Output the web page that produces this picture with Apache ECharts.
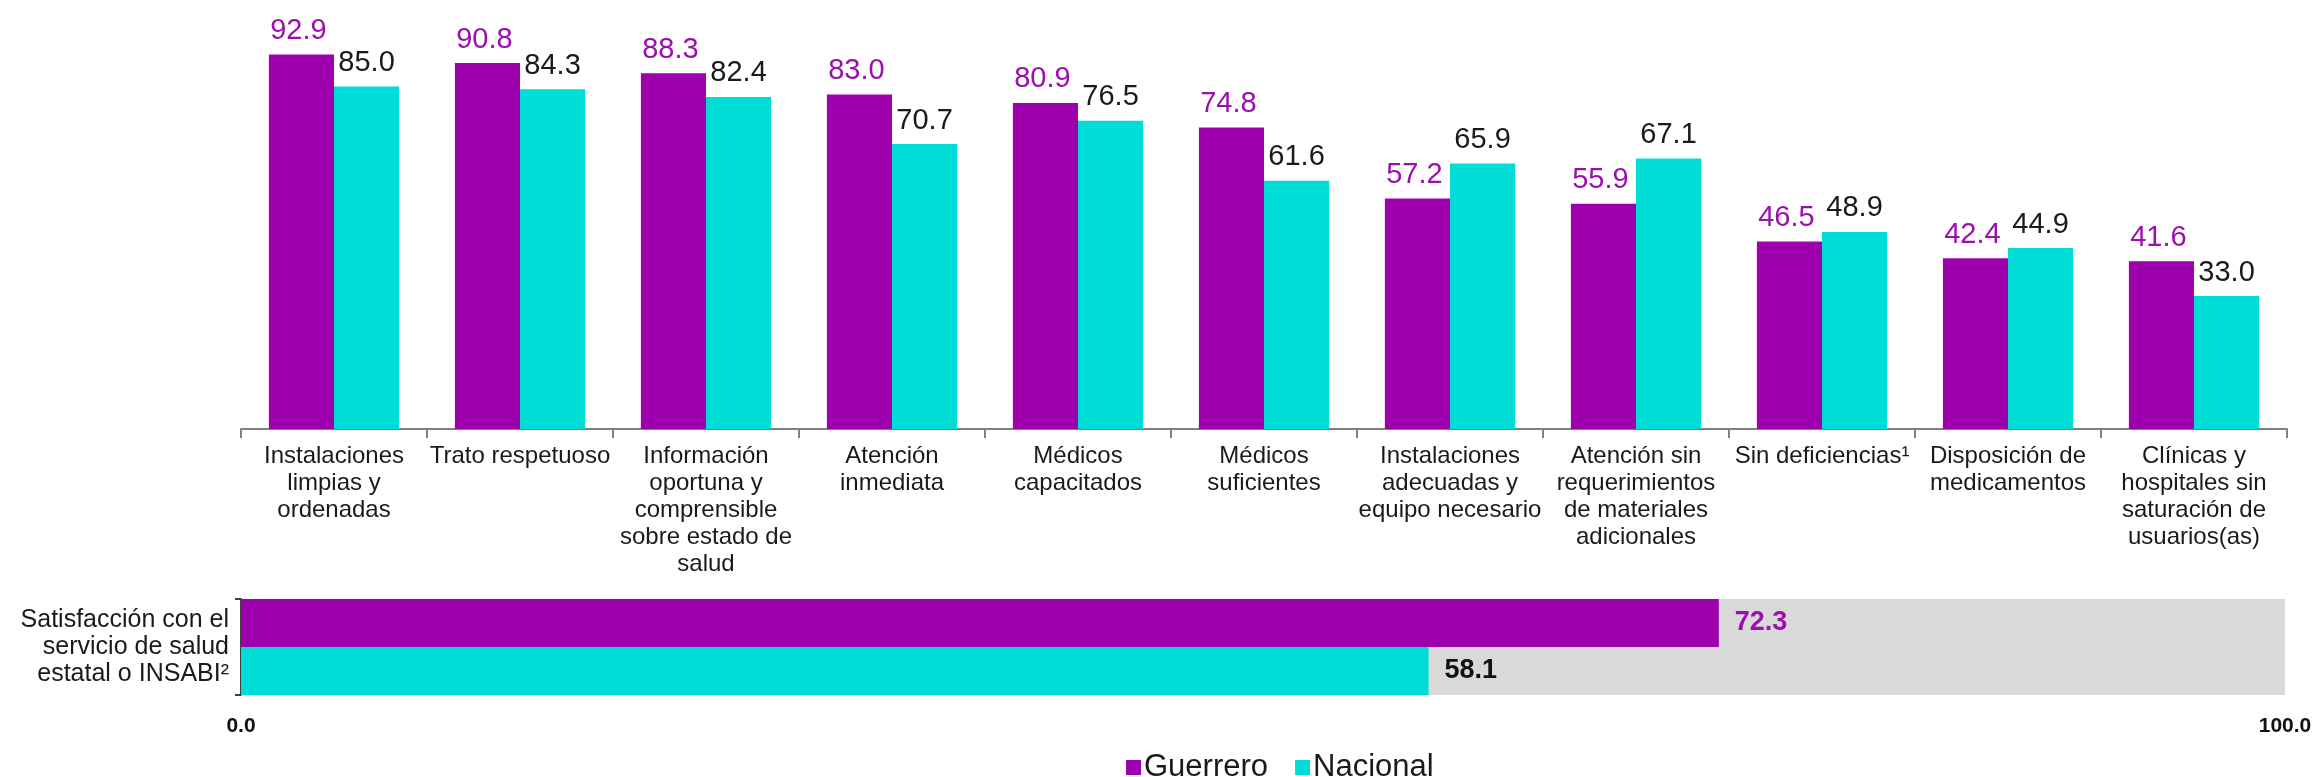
<!DOCTYPE html>
<html>
<head>
<meta charset="utf-8">
<script src="https://cdn.jsdelivr.net/npm/echarts@6/dist/echarts.min.js"></script>
<style>
  html, body { margin: 0; padding: 0; background: #fff; }
  #chart { width: 2318px; height: 777px; }
</style>
</head>
<body>
<div id="chart"></div>
<script>
// 类别（上方柱状图）
var categories = [
  "Instalaciones\nlimpias y\nordenadas",
  "Trato respetuoso",
  "Información\noportuna y\ncomprensible\nsobre estado de\nsalud",
  "Atención\ninmediata",
  "Médicos\ncapacitados",
  "Médicos\nsuficientes",
  "Instalaciones\nadecuadas y\nequipo necesario",
  "Atención sin\nrequerimientos\nde materiales\nadicionales",
  "Sin deficiencias¹",
  "Disposición de\nmedicamentos",
  "Clínicas y\nhospitales sin\nsaturación de\nusuarios(as)"
];
var guerrero = [92.9, 90.8, 88.3, 83.0, 80.9, 74.8, 57.2, 55.9, 46.5, 42.4, 41.6];
var nacional = [85.0, 84.3, 82.4, 70.7, 76.5, 61.6, 65.9, 67.1, 48.9, 44.9, 33.0];

// 下方横向柱状图
var satisCategory = ["Satisfacción con el\nservicio de salud\nestatal o INSABI²"];
var satisGuerrero = [72.3];
var satisNacional = [58.1];

var purple = "#9e00ae";
var cyan = "#00dcd6";
var labelPurple = "#9b10ad";
var font = "'Liberation Sans', Arial, sans-serif";

var chart = echarts.init(document.getElementById("chart"));

chart.setOption({
  animation: false,
  backgroundColor: "#ffffff",
  textStyle: { fontFamily: font },
  legend: {
    data: ["Guerrero", "Nacional"],
    left: 1121,
    top: 747,
    itemWidth: 15,
    itemHeight: 15,
    itemGap: 27,
    icon: "rect",
    textStyle: { fontSize: 31, color: "#1a1a1a", fontFamily: font, padding: [0, 0, 0, -2] }
  },
  grid: [
    { left: 241, right: 31, top: 26, height: 403, outerBoundsMode: "none" },
    { left: 241, right: 33, top: 599, height: 96, outerBoundsMode: "none" }
  ],
  xAxis: [
    {
      type: "category",
      gridIndex: 0,
      data: categories,
      axisLine: { lineStyle: { color: "#808080", width: 2 } },
      axisTick: { show: true, length: 9, lineStyle: { color: "#808080", width: 2 } },
      axisLabel: {
        interval: 0,
        margin: 14,
        fontSize: 24,
        lineHeight: 27,
        color: "#1a1a1a",
        fontFamily: font
      }
    },
    {
      type: "value",
      gridIndex: 1,
      min: 0,
      max: 100,
      interval: 100,
      axisLine: { show: false },
      axisTick: { show: false },
      splitLine: { show: false },
      axisLabel: {
        margin: 21,
        fontSize: 21,
        fontWeight: "bold",
        color: "#111",
        fontFamily: font,
        formatter: function (v) { return v.toFixed(1); }
      }
    }
  ],
  yAxis: [
    {
      type: "value",
      gridIndex: 0,
      min: 0,
      max: 100,
      show: false
    },
    {
      type: "category",
      gridIndex: 1,
      inverse: true,
      data: satisCategory,
      axisLine: { lineStyle: { color: "#404040", width: 2 } },
      axisTick: { show: true, length: 6, lineStyle: { color: "#404040", width: 2 } },
      axisLabel: {
        margin: 12,
        fontSize: 25,
        lineHeight: 27,
        align: "right",
        color: "#1a1a1a",
        fontFamily: font
      }
    }
  ],
  series: [
    {
      name: "Guerrero",
      type: "bar",
      xAxisIndex: 0,
      yAxisIndex: 0,
      data: guerrero,
      barGap: "0%",
      barCategoryGap: "30%",
      itemStyle: { color: purple },
      label: {
        show: true,
        position: "top",
        distance: 9,
        offset: [-3, 0],
        fontSize: 29,
        color: labelPurple,
        fontFamily: font,
        formatter: function (p) { return p.value.toFixed(1); }
      }
    },
    {
      name: "Nacional",
      type: "bar",
      xAxisIndex: 0,
      yAxisIndex: 0,
      data: nacional,
      barGap: "0%",
      barCategoryGap: "30%",
      itemStyle: { color: cyan },
      label: {
        show: true,
        position: "top",
        distance: 9,
        fontSize: 29,
        color: "#1a1a1a",
        fontFamily: font,
        formatter: function (p) { return p.value.toFixed(1); }
      }
    },
    {
      name: "Guerrero",
      type: "bar",
      xAxisIndex: 1,
      yAxisIndex: 1,
      data: satisGuerrero,
      barGap: "0%",
      barCategoryGap: "0%",
      showBackground: true,
      backgroundStyle: { color: "#d9d9d9" },
      itemStyle: { color: purple },
      label: {
        show: true,
        position: "right",
        distance: 16,
        fontSize: 27,
        fontWeight: "bold",
        color: labelPurple,
        fontFamily: font,
        formatter: function (p) { return p.value.toFixed(1); }
      }
    },
    {
      name: "Nacional",
      type: "bar",
      xAxisIndex: 1,
      yAxisIndex: 1,
      data: satisNacional,
      barGap: "0%",
      barCategoryGap: "0%",
      showBackground: true,
      backgroundStyle: { color: "#d9d9d9" },
      itemStyle: { color: cyan },
      label: {
        show: true,
        position: "right",
        distance: 16,
        fontSize: 27,
        fontWeight: "bold",
        color: "#111",
        fontFamily: font,
        formatter: function (p) { return p.value.toFixed(1); }
      }
    }
  ]
});

window.addEventListener("resize", function () {
  chart.resize();
});
</script>
</body>
</html>
